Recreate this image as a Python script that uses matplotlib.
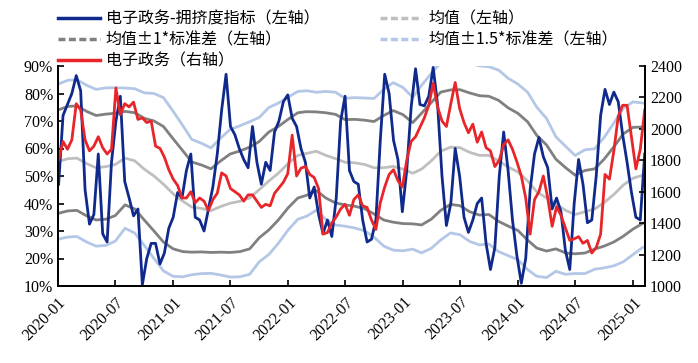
import matplotlib
matplotlib.use('Agg')
import matplotlib.pyplot as plt
from matplotlib.lines import Line2D
import numpy as np
import pandas as pd

plt.rcParams['font.family'] = ['Noto Sans CJK SC', 'DejaVu Sans']

# 拥挤度指标（双周，左轴 %）
crowd = [47, 72, 76, 80, 86.5, 81, 45, 32.5, 36, 58, 29, 26, 55, 70, 79, 48, 42, 35.5, 38, 10.5,
         20, 25.5, 25.5, 18, 22, 31, 35, 44, 42, 52, 58, 35, 34, 30, 38, 46, 58, 74, 87, 68,
         65, 60, 56, 53, 68, 55, 47, 55, 52, 66, 70, 77, 79.5, 71, 68, 60, 55, 42, 46, 36,
         29, 34, 28, 42, 70, 79, 52, 48, 47, 34, 26, 27, 34, 63, 87, 80, 63, 56, 37, 52,
         75, 89, 76, 75.5, 79, 89.5, 76, 50, 32, 40, 60, 50, 35, 29.5, 34, 40, 42, 25.5, 16, 24,
         50, 66, 52, 34, 21, 11, 20, 45, 58, 64, 57, 53, 38, 42, 37, 23, 16, 40, 56, 47,
         33, 34, 50, 72, 81.5, 76, 80.5, 77, 65, 55, 44, 35, 34, 58]

# 电子政务指数（双周，右轴）
index = [1800, 1920, 1870, 1930, 2160, 2120, 1930, 1860, 1890, 1950, 1880, 1840, 1870, 2260, 2090, 2160, 2140, 2170, 2060, 2070,
         2040, 2050, 1890, 1876, 1820, 1740, 1680, 1640, 1560, 1560, 1600, 1530, 1560, 1540, 1480, 1550, 1590, 1720, 1700, 1620,
         1600, 1580, 1540, 1580, 1580, 1540, 1500, 1520, 1510, 1590, 1625, 1660, 1715, 1960, 1700, 1750, 1760, 1710, 1690, 1620,
         1330, 1340, 1400, 1440, 1490, 1520, 1450, 1550, 1580, 1510, 1500, 1420, 1360, 1530, 1630, 1710, 1740, 1670, 1630, 1800,
         1920, 1950, 2010, 2070, 2150, 2290, 2140, 2050, 2015, 2160, 2295, 2130, 2040, 1975, 2030, 1915, 1980, 1880, 1860, 1760,
         1800, 1900, 1930, 1870, 1790, 1700, 1560, 1330, 1550, 1600, 1700, 1560, 1380, 1505, 1450, 1370, 1290, 1300, 1314, 1272,
         1290, 1210, 1245, 1330, 1710, 1680, 1860, 2080, 2150, 2150, 1950, 1745, 1870, 2120]

# 滚动均值与标准差（月度，左轴 %）
mean = [55.2, 56.3, 56.5, 54.5, 53.0, 53.4, 54.2, 56.5, 55.5, 52.5, 50.0, 47.0, 43.5, 40.8, 38.7, 38.2, 37.4, 38.9, 40.1, 40.8,
        42.0, 45.0, 48.2, 51.0, 54.5, 57.5, 58.2, 59.0, 57.5, 56.3, 55.0, 54.8, 54.2, 53.0, 53.0, 53.5, 52.5, 51.0, 52.5, 55.5,
        59.0, 60.5, 60.3, 58.6, 57.5, 57.5, 55.5, 53.3, 51.5, 48.2, 44.3, 42.0, 39.8, 37.5, 36.0, 37.0, 38.0, 40.3, 43.3, 46.7,
        49.2, 50.3]
std = [18.8, 19.0, 19.0, 19.0, 19.0, 19.1, 18.6, 17.0, 17.5, 18.5, 20.0, 21.0, 20.0, 18.3, 16.4, 15.8, 15.2, 16.6, 17.9, 18.3,
       18.5, 17.5, 17.8, 17.0, 16.1, 15.5, 15.2, 14.3, 15.5, 16.1, 15.5, 15.8, 16.1, 16.8, 19.0, 20.3, 19.8, 18.4, 20.3, 21.2,
       21.5, 20.8, 21.1, 21.6, 21.7, 21.5, 22.0, 21.5, 21.3, 21.5, 20.5, 19.3, 16.3, 15.5, 14.3, 15.0, 14.6, 15.8, 17.3, 18.6,
       18.5, 17.5]

wk = pd.date_range('2020-01-03', periods=len(crowd), freq='2W-FRI')
mo = pd.date_range('2020-01-01', periods=len(mean), freq='MS')
mean_a = np.array(mean)
std_a = np.array(std)

C_BLUE = '#0F2A8C'
C_RED = '#E8262A'
C_GRAY = '#808080'
C_LGRAY = '#BFBFBF'
C_LBLUE = '#B4C7E7'
LW = 2.0

fig = plt.figure(figsize=(6.98, 3.63), dpi=100)
ax = fig.add_axes([58 / 698, 1 - 286 / 363, 587 / 698, 220 / 363])
ax2 = ax.twinx()

ax.plot(mo, mean_a + 1.5 * std_a, color=C_LBLUE, lw=LW)
ax.plot(mo, mean_a - 1.5 * std_a, color=C_LBLUE, lw=LW)
ax.plot(mo, mean_a + std_a, color=C_GRAY, lw=LW)
ax.plot(mo, mean_a - std_a, color=C_GRAY, lw=LW)
ax.plot(mo, mean_a, color=C_LGRAY, lw=LW)
ax.plot(wk, crowd, color=C_BLUE, lw=LW)
ax2.plot(wk, index, color=C_RED, lw=LW)

ax.set_ylim(10, 90)
ax.set_yticks(range(10, 91, 10))
ax.set_yticklabels([f'{v}%' for v in range(10, 91, 10)])
ax2.set_ylim(1000, 2400)
ax2.set_yticks(range(1000, 2401, 200))
ax.set_xlim(pd.Timestamp('2020-01-01'), pd.Timestamp('2025-02-08'))
xt = pd.date_range('2020-01-01', '2025-01-01', freq='6MS')
ax.set_xticks(xt)
ax.set_xticklabels([d.strftime('%Y-%m') for d in xt], rotation=45, ha='right', rotation_mode='anchor')

for a in (ax, ax2):
    a.spines['top'].set_visible(False)
    for s in ('left', 'right', 'bottom'):
        a.spines[s].set_linewidth(1.3)
    a.tick_params(direction='in', length=4, width=1.2, labelsize=11.5)
    for lab in a.get_xticklabels() + a.get_yticklabels():
        lab.set_family('Liberation Serif')
ax.tick_params(axis='x', pad=6)

handles = [
    Line2D([], [], color=C_BLUE, lw=2.5),
    Line2D([], [], color=C_GRAY, lw=2.5, ls=(0, (2, 1))),
    Line2D([], [], color=C_RED, lw=2.5),
    Line2D([], [], color=C_LGRAY, lw=2.5, ls=(0, (2, 1))),
    Line2D([], [], color=C_LBLUE, lw=2.5, ls=(0, (2, 1))),
]
labels = ['电子政务-拥挤度指标（左轴）', '均值±1*标准差（左轴）', '电子政务（右轴）',
          '均值（左轴）', '均值±1.5*标准差（左轴）']
fig.legend(handles, labels, loc='upper left', bbox_to_anchor=(0.0625, 1.011), ncol=2,
           frameon=False, fontsize=11.5, handlelength=2.6, handletextpad=0.4,
           columnspacing=3.8, labelspacing=0.25)

fig.savefig('out.png', dpi=100)
